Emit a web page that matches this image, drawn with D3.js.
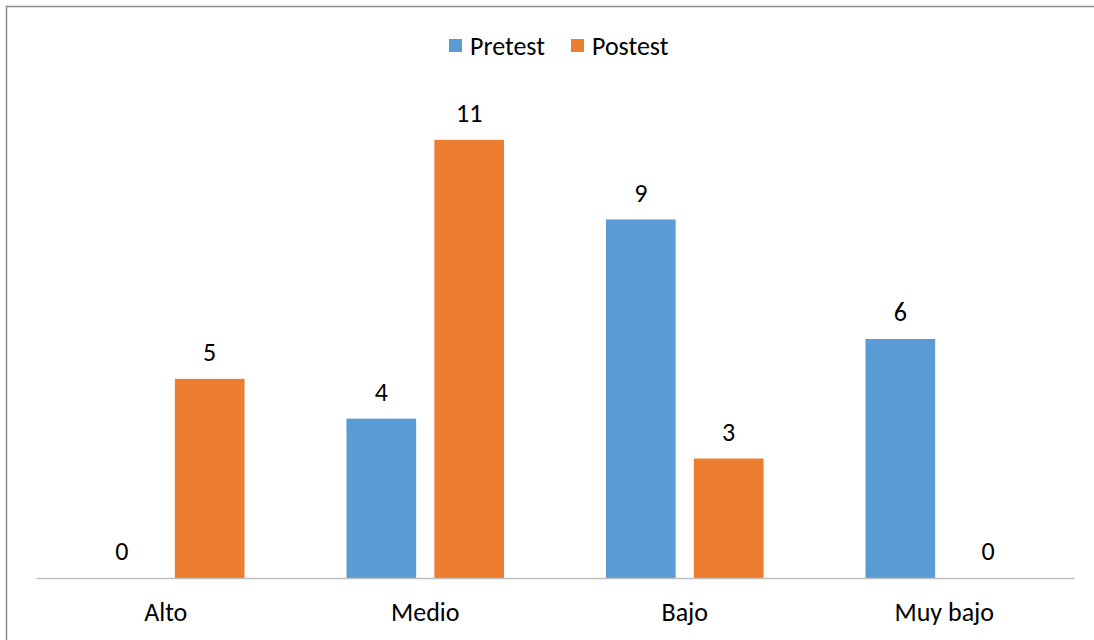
<!DOCTYPE html>
<html>
<head>
<meta charset="utf-8">
<script src="https://cdn.jsdelivr.net/npm/d3@7"></script>
<style>
  body { margin: 0; background: #fff; }
  svg text { font-family: Calibri, Carlito, "Open Sans", sans-serif; fill: #000; }
</style>
</head>
<body>
<div id="chart"></div>
<script>
// chart data
const categories = ["Alto", "Medio", "Bajo", "Muy bajo"];
const seriesNames = ["Pretest", "Postest"];
const pretest = [0, 4, 9, 6];
const postest = [5, 11, 3, 0];
const colors = ["#5B9BD5", "#ED7D31"];

const width = 1094, height = 640;
const margin = { top: 100, right: 20, bottom: 62, left: 36 };
const fontSize = "26px";

const svg = d3.select("#chart")
    .append("svg")
    .attr("width", width)
    .attr("height", height);

// outer frame (runs off the right/bottom edges like the screenshot)
svg.append("rect")
    .attr("x", 6.5).attr("y", 6.5)
    .attr("width", width + 10).attr("height", height + 10)
    .attr("fill", "none")
    .attr("stroke", "#8c8c8c")
    .attr("stroke-width", 1.5);

const x = d3.scaleBand()
    .domain(categories)
    .range([margin.left, width - margin.right])
    .paddingInner(0).paddingOuter(0);

const x1 = d3.scaleBand()
    .domain(seriesNames)
    .range([0, x.bandwidth()])
    .paddingInner(0.207)
    .paddingOuter(0.58);

const y = d3.scaleLinear()
    .domain([0, 12])
    .range([height - margin.bottom, margin.top]);

const rows = categories.map((c, i) => ({
    cat: c,
    vals: [
        { key: seriesNames[0], value: pretest[i], color: colors[0] },
        { key: seriesNames[1], value: postest[i], color: colors[1] }
    ]
}));

const groups = svg.append("g")
    .selectAll("g")
    .data(rows)
    .join("g")
    .attr("transform", d => `translate(${x(d.cat)},0)`);

groups.selectAll("rect")
    .data(d => d.vals)
    .join("rect")
    .attr("x", d => x1(d.key))
    .attr("y", d => y(d.value))
    .attr("width", x1.bandwidth())
    .attr("height", d => y(0) - y(d.value))
    .attr("fill", d => d.color);

groups.selectAll("text.val")
    .data(d => d.vals)
    .join("text")
    .attr("class", "val")
    .attr("x", d => x1(d.key) + x1.bandwidth() / 2)
    .attr("y", d => y(d.value) - 18)
    .attr("text-anchor", "middle")
    .style("font-size", fontSize)
    .text(d => d.value);

// category axis
const xAxis = svg.append("g")
    .attr("transform", `translate(0,${y(0)})`)
    .call(d3.axisBottom(x).tickSize(0));
xAxis.select(".domain").attr("stroke", "#bfbfbf").attr("stroke-width", 1.5);
xAxis.selectAll("text")
    .attr("y", 43)
    .attr("dy", 0)
    .style("font-size", fontSize)
    .style("font-family", "Calibri, Carlito, 'Open Sans', sans-serif")
    .attr("fill", "#000");

// legend
const legend = svg.append("g").attr("transform", "translate(449,46)");
const legendX = [0, 122];
seriesNames.forEach((name, i) => {
    const g = legend.append("g").attr("transform", `translate(${legendX[i]},0)`);
    g.append("rect")
        .attr("x", 0).attr("y", -7)
        .attr("width", 13).attr("height", 13)
        .attr("fill", colors[i]);
    g.append("text")
        .attr("x", 21).attr("y", 8.5)
        .style("font-size", fontSize)
        .text(name);
});
</script>
</body>
</html>
